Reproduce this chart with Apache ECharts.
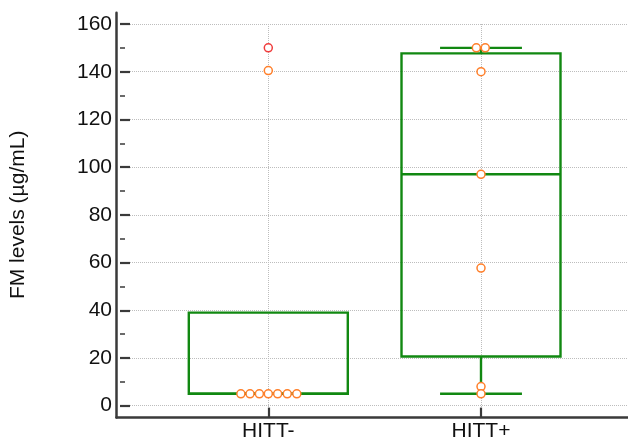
<!DOCTYPE html>
<html>
<head>
<meta charset="utf-8">
<script src="https://cdn.jsdelivr.net/npm/echarts@6/dist/echarts.min.js"></script>
<style>html,body{margin:0;padding:0;background:#fff}#c{width:628px;height:444px}</style>
</head>
<body>
<div id="c"></div>
<script>
// ---- data ----
const categories = ['HITT-', 'HITT+'];
const categoryX = [1, 2];
// box statistics: [min, Q1, median, Q3, max]
const boxMin    = [5, 5];
const boxQ1     = [5, 20.6];
const boxMedian = [5, 97];
const boxQ3     = [39, 147.7];
const boxMax    = [39, 150];
// individual points (x is category position with jitter)
const negPointsX = [0.871, 0.914, 0.958, 1.0, 1.044, 1.089, 1.134, 1.0];
const negPointsY = [5, 5, 5, 5, 5, 5, 5, 140.5];
const negRedX = [1.0];
const negRedY = [150];
const posPointsX = [1.978, 2.020, 2.0, 2.0, 2.0, 2.0, 2.0];
const posPointsY = [150, 150, 140, 97, 57.7, 8, 5];
const yTickMin = 0, yTickMax = 160, yTickStep = 20;
const yTitle = 'FM levels (µg/mL)';

// ---- styles ----
const FONT = '"Liberation Sans", Arial, sans-serif';
const GREEN = '#118811';
const ORANGE = '#ff7f2a';
const RED = '#f03c3c';
const AXIS = '#3a3a3a';
const GRIDC = '#bdbdbd';
const BOX_W = 0.7475;
const CAP_W = 0.385;

const boxData = categoryX.map((x, i) => [x, boxMin[i], boxQ1[i], boxMedian[i], boxQ3[i], boxMax[i]]);
const zip = (xs, ys) => xs.map((x, i) => [x, ys[i]]);

const chart = echarts.init(document.getElementById('c'), null, {renderer: 'canvas'});
chart.setOption({
  animation: false,
  backgroundColor: '#fff',
  textStyle: {fontFamily: FONT},
  grid: [
    {left: 116.5, right: 0, top: 12.8, bottom: 26.4},
    {left: 116.5, right: 0, top: 24, bottom: 38.3},
    {left: 268.3, right: 147, top: 24, bottom: 26.4}
  ],
  xAxis: [
    {gridIndex: 0, type: 'value', min: 0.2863, max: 2.6911,
     axisLine: {show: true, onZero: false, lineStyle: {color: AXIS, width: 2.5}},
     axisTick: {show: false}, axisLabel: {show: false}, splitLine: {show: false}},
    {gridIndex: 1, type: 'value', min: 0, max: 1, show: false},
    {gridIndex: 2, type: 'value', min: categoryX[0], max: categoryX[1], interval: 1,
     axisLine: {show: false, onZero: false},
     axisTick: {show: true, inside: true, length: 10, lineStyle: {color: AXIS, width: 2.2}},
     axisLabel: {show: true, margin: 3, fontSize: 21, color: '#111', fontFamily: FONT,
                 formatter: v => categories[categoryX.indexOf(Math.round(v))] || ''},
     splitLine: {show: true, lineStyle: {color: GRIDC, type: 'dotted', width: 1}}}
  ],
  yAxis: [
    {gridIndex: 0, type: 'value', min: -4.99, max: 164.7,
     axisLine: {show: true, onZero: false, lineStyle: {color: AXIS, width: 2.5}},
     axisTick: {show: false}, axisLabel: {show: false}, splitLine: {show: false}},
    {gridIndex: 1, type: 'value', min: yTickMin, max: yTickMax, interval: yTickStep,
     name: yTitle, nameLocation: 'middle', nameGap: 91,
     nameTextStyle: {fontSize: 21, color: '#111', fontFamily: FONT},
     axisLine: {show: false, onZero: false},
     axisTick: {show: true, inside: true, length: 10, lineStyle: {color: AXIS, width: 2.2}},
     minorTick: {show: true, splitNumber: 2, length: 5, lineStyle: {color: AXIS, width: 1.5}},
     axisLabel: {margin: 8, fontSize: 21, color: '#111', fontFamily: FONT},
     splitLine: {show: true, lineStyle: {color: GRIDC, type: 'dotted', width: 1}}},
    {gridIndex: 2, type: 'value', min: 0, max: 1, show: false}
  ],
  series: [
    {
      type: 'custom', xAxisIndex: 0, yAxisIndex: 0, z: 2,
      data: boxData,
      encode: {x: 0, y: [1, 2, 3, 4, 5]},
      renderItem: function (params, api) {
        const x = api.value(0);
        const lo = api.value(1), q1 = api.value(2), med = api.value(3), q3 = api.value(4), hi = api.value(5);
        const halfW = api.size([BOX_W, 0])[0] / 2;
        const capHalf = api.size([CAP_W, 0])[0] / 2;
        const pLo = api.coord([x, lo]), pQ1 = api.coord([x, q1]), pMed = api.coord([x, med]);
        const pQ3 = api.coord([x, q3]), pHi = api.coord([x, hi]);
        const cx = pQ1[0];
        const st = {stroke: GREEN, lineWidth: 2.4, fill: null};
        const children = [
          {type: 'rect', shape: {x: cx - halfW, y: pQ3[1], width: 2 * halfW, height: pQ1[1] - pQ3[1]},
           style: {stroke: GREEN, lineWidth: 2.4, fill: 'none'}},
          {type: 'line', shape: {x1: cx - halfW, y1: pMed[1], x2: cx + halfW, y2: pMed[1]}, style: st}
        ];
        if (hi > q3) {
          children.push({type: 'line', shape: {x1: cx, y1: pQ3[1], x2: cx, y2: pHi[1]}, style: st});
          children.push({type: 'line', shape: {x1: cx - capHalf, y1: pHi[1], x2: cx + capHalf, y2: pHi[1]}, style: st});
        }
        if (lo < q1) {
          children.push({type: 'line', shape: {x1: cx, y1: pQ1[1], x2: cx, y2: pLo[1]}, style: st});
          children.push({type: 'line', shape: {x1: cx - capHalf, y1: pLo[1], x2: cx + capHalf, y2: pLo[1]}, style: st});
        }
        return {type: 'group', children: children};
      }
    },
    {
      type: 'scatter', xAxisIndex: 0, yAxisIndex: 0, z: 5, clip: false,
      symbol: 'circle', symbolSize: 8,
      itemStyle: {color: '#fff', borderColor: ORANGE, borderWidth: 1.5, opacity: 1},
      data: zip(negPointsX, negPointsY).concat(zip(posPointsX, posPointsY))
    },
    {
      type: 'scatter', xAxisIndex: 0, yAxisIndex: 0, z: 5, clip: false,
      symbol: 'circle', symbolSize: 8,
      itemStyle: {color: '#fff', borderColor: RED, borderWidth: 1.5, opacity: 1},
      data: zip(negRedX, negRedY)
    }
  ]
});
</script>
</body>
</html>
